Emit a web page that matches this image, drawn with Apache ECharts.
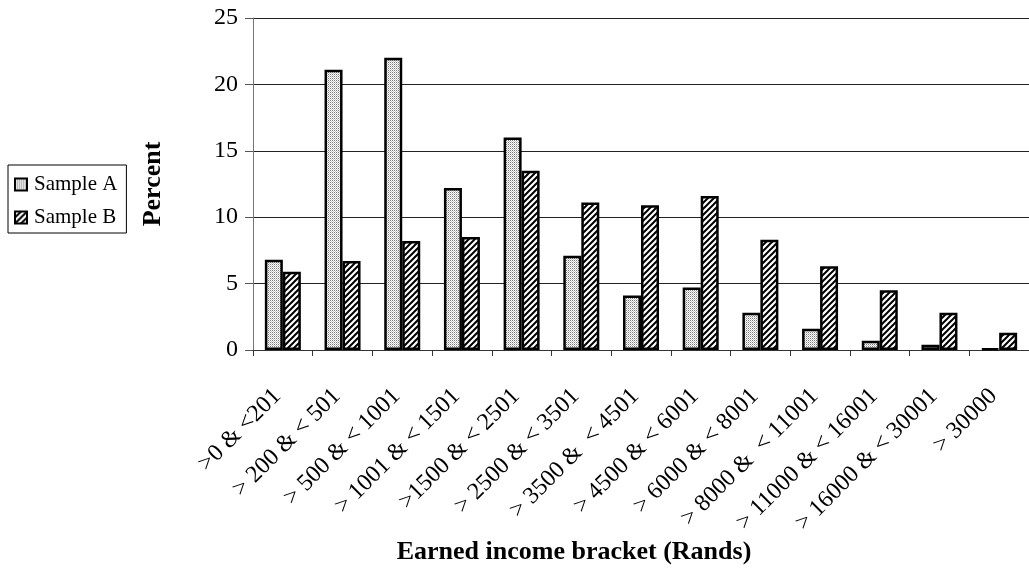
<!DOCTYPE html>
<html>
<head>
<meta charset="utf-8">
<script src="https://cdn.jsdelivr.net/npm/echarts@6/dist/echarts.min.js"></script>
<style>
  html, body { margin: 0; padding: 0; background: #fff; }
  #chart { width: 1029px; height: 571px; }
</style>
</head>
<body>
<div id="chart"></div>
<script>
// Income brackets (Rands)
const categories = [
  '>0 & <201', '> 200 & < 501', '> 500 & < 1001', '> 1001 & < 1501',
  '>1500 & < 2501', '> 2500 & < 3501', '> 3500 &  < 4501', '> 4500 & < 6001',
  '> 6000 & < 8001', '> 8000 &  < 11001', '> 11000 & < 16001',
  '> 16000 & < 30001', '> 30000'
];
// Percent of each sample in each bracket
const sampleA = [6.8, 21.1, 22.0, 12.2, 16.0, 7.1, 4.1, 4.7, 2.8, 1.6, 0.7, 0.4, 0.1];
const sampleB = [5.9, 6.7, 8.2, 8.5, 13.5, 11.1, 10.9, 11.6, 8.3, 6.3, 4.5, 2.8, 1.3];
const yTicks = [0, 5, 10, 15, 20, 25];

const FONT = "'Liberation Serif', 'Times New Roman', serif";

// Fine grey stipple fill
function stipple() {
  const c = document.createElement('canvas');
  c.width = 2; c.height = 2;
  const g = c.getContext('2d');
  g.fillStyle = '#ffffff';
  g.fillRect(0, 0, 2, 2);
  g.fillStyle = '#7a7a7a';
  g.fillRect(0, 0, 1, 1);
  g.fillStyle = '#c4c4c4';
  g.fillRect(1, 1, 1, 1);
  return { image: c, repeat: 'repeat' };
}
// Forward-slash hatch fill
function hatch() {
  const s = 6;
  const c = document.createElement('canvas');
  c.width = s; c.height = s;
  const g = c.getContext('2d');
  g.fillStyle = '#ffffff';
  g.fillRect(0, 0, s, s);
  g.strokeStyle = '#000000';
  g.lineWidth = 2;
  g.beginPath();
  g.moveTo(-1, s + 1); g.lineTo(s + 1, -1);
  g.moveTo(-1, 1); g.lineTo(1, -1);
  g.moveTo(s - 1, s + 1); g.lineTo(s + 1, s - 1);
  g.stroke();
  return { image: c, repeat: 'repeat' };
}

const chart = echarts.init(document.getElementById('chart'), null, { renderer: 'canvas' });

const barStyle = (fill) => ({ color: fill, borderColor: '#000', borderWidth: 2.5 });

chart.setOption({
  animation: false,
  backgroundColor: '#fff',
  textStyle: { fontFamily: FONT, color: '#000' },
  grid: { left: 253, right: -7, top: 18, bottom: 221, containLabel: false },
  legend: {
    orient: 'vertical',
    left: 8, top: 165,
    padding: [9, 9, 5, 6],
    itemGap: 12,
    itemWidth: 12, itemHeight: 12,
    icon: 'rect',
    backgroundColor: '#fff',
    borderColor: '#000',
    borderWidth: 1,
    textStyle: {
      fontFamily: FONT, fontSize: 21, lineHeight: 21, color: '#000',
      padding: [0, 0, 0, 2]
    },
    data: ['Sample A', 'Sample B']
  },
  xAxis: {
    type: 'category',
    data: categories,
    axisLine: { lineStyle: { color: '#333', width: 1 } },
    axisTick: { show: true, length: 6, lineStyle: { color: '#333' } },
    axisLabel: {
      rotate: 45, margin: 37, interval: 0,
      fontFamily: FONT, fontSize: 24, color: '#000',
      padding: [0, 8, 0, 0]
    },
    splitLine: { show: false }
  },
  yAxis: {
    type: 'value',
    min: yTicks[0], max: yTicks[yTicks.length - 1], interval: 5,
    axisLine: { show: true, lineStyle: { color: '#777', width: 1 } },
    axisTick: { show: true, length: 8, lineStyle: { color: '#555' } },
    axisLabel: { margin: 15, fontFamily: FONT, fontSize: 24, color: '#000' },
    splitLine: { show: true, lineStyle: { color: '#222', width: 1 } }
  },
  series: [
    {
      name: 'Sample A', type: 'bar', data: sampleA,
      barWidth: 18, barGap: '0%',
      itemStyle: barStyle(stipple())
    },
    {
      name: 'Sample B', type: 'bar', data: sampleB,
      barWidth: 18, barGap: '0%',
      itemStyle: barStyle(hatch())
    }
  ],
  graphic: [
    {
      type: 'text', x: 153, y: 184, rotation: Math.PI / 2,
      style: {
        text: 'Percent', font: 'bold 26px ' + FONT, fill: '#000',
        textAlign: 'center', textVerticalAlign: 'middle'
      }
    },
    {
      type: 'text', x: 574, y: 552,
      style: {
        text: 'Earned income bracket (Rands)', font: 'bold 26px ' + FONT, fill: '#000',
        textAlign: 'center', textVerticalAlign: 'middle'
      }
    }
  ]
});
</script>
</body>
</html>
